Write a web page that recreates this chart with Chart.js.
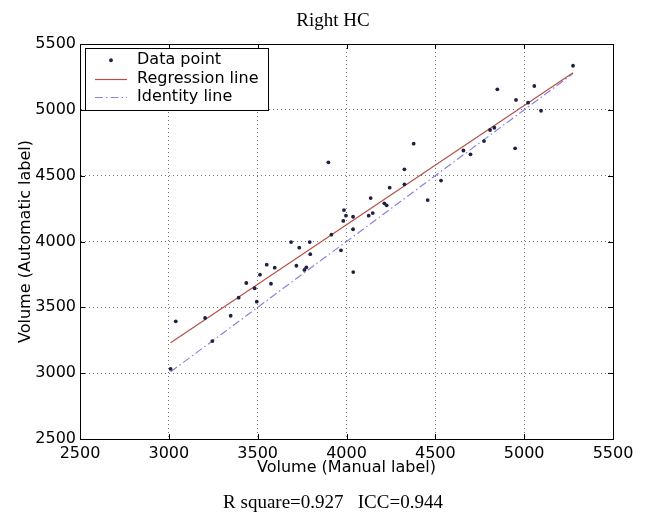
<!DOCTYPE html>
<html>
<head>
<meta charset="utf-8">
<script src="https://cdn.jsdelivr.net/npm/chart.js@4/dist/chart.umd.min.js"></script>
<style>
  html, body { margin: 0; padding: 0; background: #fff; }
  #wrap { width: 654px; height: 522px; }
</style>
</head>
<body>
<div id="wrap"><canvas id="c" width="654" height="522"></canvas></div>
<script>
// Right HC volumes: manual segmentation (x) vs automatic segmentation (y)
const manualVolume = [
  3010, 3039, 3204, 3245, 3348, 3393, 3436, 3483, 3495, 3513,
  3551, 3575, 3596, 3688, 3718, 3734, 3763, 3774, 3793, 3796,
  3898, 3915, 3969, 3982, 3986, 3997, 4037, 4037, 4038, 4125,
  4148, 4136, 4213, 4226, 4243, 4326, 4326, 4378, 4457, 4532,
  4658, 4698, 4774, 4808, 4832, 4849, 4949, 4954, 5022, 5057,
  5095, 5275
];
const automaticVolume = [
  3032, 3394, 3419, 3244, 3436, 3573, 3685, 3645, 3543, 3748,
  3824, 3679, 3801, 3996, 3816, 3953, 3784, 3804, 3996, 3904,
  4601, 4052, 3933, 4156, 4239, 4196, 4188, 4093, 3768, 4196,
  4216, 4330, 4290, 4275, 4409, 4548, 4434, 4743, 4315, 4463,
  4691, 4662, 4763, 4847, 4864, 5156, 4708, 5075, 5054, 5181,
  4993, 5335
];

// Fitted regression line and the y = x identity line, end points
const regressionX = [3010, 5275];
const regressionY = [3231, 5282];
const identityX = [3010, 5275];
const identityY = [3010, 5275];

// Axis ticks
const xTicks = [2500, 3000, 3500, 4000, 4500, 5000, 5500];
const yTicks = [2500, 3000, 3500, 4000, 4500, 5000, 5500];

const toPoints = (xs, ys) => xs.map((v, i) => ({ x: v, y: ys[i] }));

const SANS = '"DejaVu Sans", sans-serif';
const SERIF = '"Liberation Serif", "Times New Roman", serif';
Chart.defaults.color = '#000';

// Short inward tick marks on all four sides of the axes box
const innerTicks = {
  id: 'innerTicks',
  beforeDatasetsDraw(chart) {
    const { ctx, chartArea: a, scales: { x, y } } = chart;
    const len = 5;
    ctx.save();
    ctx.strokeStyle = '#000';
    ctx.lineWidth = 1;
    ctx.beginPath();
    x.ticks.forEach(t => {
      const p = Math.round(x.getPixelForValue(t.value)) + 0.5;
      ctx.moveTo(p, a.bottom); ctx.lineTo(p, a.bottom - len);
      ctx.moveTo(p, a.top); ctx.lineTo(p, a.top + len);
    });
    y.ticks.forEach(t => {
      const p = Math.round(y.getPixelForValue(t.value)) + 0.5;
      ctx.moveTo(a.left, p); ctx.lineTo(a.left + len, p);
      ctx.moveTo(a.right, p); ctx.lineTo(a.right - len, p);
    });
    ctx.stroke();
    ctx.restore();
  }
};

// Boxed legend in the upper-left corner of the plot area
const boxLegend = {
  id: 'boxLegend',
  afterDraw(chart) {
    const { ctx, chartArea: a } = chart;
    const sets = chart.data.datasets;
    ctx.save();
    ctx.font = '16px ' + SANS;
    const textW = Math.max(...sets.map(d => ctx.measureText(d.label).width));
    const left = a.left + 5, top = a.top + 4;
    const rowH = 18.5, sampleW = 32, padX = 10, gap = 10;
    const w = Math.round(padX + sampleW + gap + textW + 10);
    const h = Math.round(sets.length * rowH + 6);
    ctx.fillStyle = '#fff';
    ctx.fillRect(left, top, w, h);
    ctx.strokeStyle = '#000';
    ctx.lineWidth = 1;
    ctx.strokeRect(Math.round(left) + 0.5, Math.round(top) + 0.5, w, h);
    sets.forEach((d, i) => {
      const cy = top + 3 + rowH * (i + 0.5);
      const x0 = left + padX, x1 = x0 + sampleW;
      if (d.showLine) {
        ctx.strokeStyle = d.borderColor;
        ctx.lineWidth = d.borderWidth;
        ctx.setLineDash(d.borderDash || []);
        ctx.beginPath();
        ctx.moveTo(x0, Math.round(cy) + 0.5);
        ctx.lineTo(x1, Math.round(cy) + 0.5);
        ctx.stroke();
        ctx.setLineDash([]);
      } else {
        ctx.fillStyle = d.pointBackgroundColor;
        ctx.beginPath();
        ctx.arc((x0 + x1) / 2, cy, d.pointRadius, 0, Math.PI * 2);
        ctx.fill();
      }
      ctx.fillStyle = '#000';
      ctx.textBaseline = 'middle';
      ctx.textAlign = 'left';
      ctx.fillText(d.label, x1 + gap, cy);
    });
    ctx.restore();
  }
};

const gridStyle = { color: '#777', lineWidth: 1, drawTicks: false };
const borderStyle = { display: true, color: '#000', width: 1, dash: [1, 3] };
const plainNumber = v => String(v);

new Chart(document.getElementById('c'), {
  type: 'scatter',
  data: {
    datasets: [
      {
        label: 'Data point',
        data: toPoints(manualVolume, automaticVolume),
        showLine: false,
        pointRadius: 1.9,
        pointBackgroundColor: '#20203f',
        pointBorderWidth: 0
      },
      {
        label: 'Regression line',
        data: toPoints(regressionX, regressionY),
        showLine: true,
        borderColor: '#b5504a',
        borderWidth: 1.2,
        pointRadius: 0
      },
      {
        label: 'Identity line',
        data: toPoints(identityX, identityY),
        showLine: true,
        borderColor: '#8a82e0',
        borderWidth: 1.2,
        borderDash: [8, 3, 1.5, 3],
        pointRadius: 0
      }
    ]
  },
  options: {
    responsive: false,
    animation: false,
    layout: { padding: { left: 12, right: 0, top: 0, bottom: 0 } },
    plugins: {
      legend: { display: false },
      tooltip: { enabled: false },
      title: {
        display: true,
        text: 'Right HC',
        color: '#000',
        font: { family: SERIF, size: 19, weight: 'normal', lineHeight: 1.2 },
        padding: { top: 9.6, bottom: 11.6 }
      },
      subtitle: {
        display: true,
        position: 'bottom',
        text: 'R square=0.927   ICC=0.944',
        color: '#000',
        font: { family: SERIF, size: 19, weight: 'normal', lineHeight: 1.2 },
        padding: { top: 12.6, bottom: 7.6 }
      }
    },
    scales: {
      x: {
        type: 'linear',
        position: 'bottom',
        min: 2500,
        max: 5500,
        afterBuildTicks: s => { s.ticks = xTicks.map(v => ({ value: v })); },
        afterFit: s => { s.height = 40; },
        ticks: { font: { family: SANS, size: 16 }, color: '#000', padding: 5, maxRotation: 0, callback: plainNumber },
        grid: gridStyle,
        border: borderStyle,
        title: {
          display: true,
          text: 'Volume (Manual label)',
          color: '#000',
          font: { family: SANS, size: 16 },
          padding: { top: 0, bottom: 1.8 }
        }
      },
      y: {
        type: 'linear',
        position: 'left',
        min: 2500,
        max: 5500,
        afterBuildTicks: s => { s.ticks = yTicks.map(v => ({ value: v })); },
        afterFit: s => { s.width = 68; },
        ticks: { font: { family: SANS, size: 16 }, color: '#000', padding: 4, callback: plainNumber },
        grid: gridStyle,
        border: borderStyle,
        title: {
          display: true,
          text: 'Volume (Automatic label)',
          color: '#000',
          font: { family: SANS, size: 16 },
          padding: { top: 4.4, bottom: 0 }
        }
      },
      xTop: {
        type: 'linear',
        position: 'top',
        min: 2500,
        max: 5500,
        afterFit: s => { s.height = 0; },
        ticks: { display: false },
        grid: { display: false, drawTicks: false },
        border: { display: true, color: '#000', width: 1 }
      },
      yRight: {
        type: 'linear',
        position: 'right',
        min: 2500,
        max: 5500,
        afterFit: s => { s.width = 41; },
        ticks: { display: false },
        grid: { display: false, drawTicks: false },
        border: { display: true, color: '#000', width: 1 }
      }
    }
  },
  plugins: [innerTicks, boxLegend]
});
</script>
</body>
</html>
